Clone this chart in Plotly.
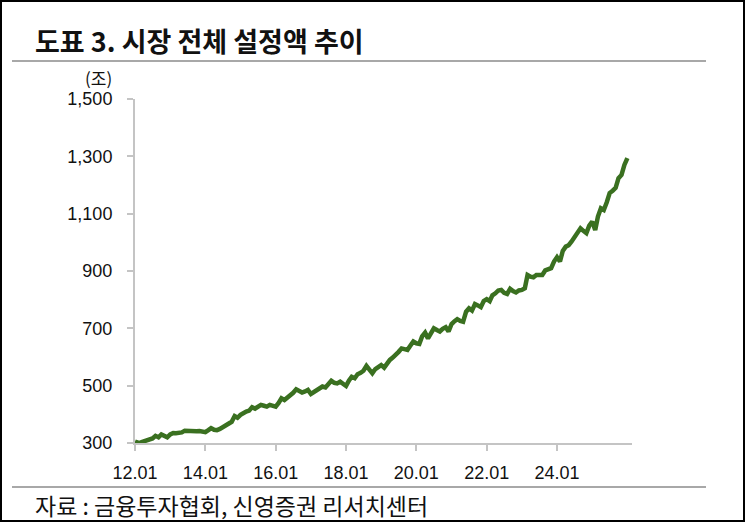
import pandas as pd
import plotly.graph_objects as go

# Monthly total fund assets (조원), 2012.01 - 2026.01
values = [
    305, 301, 302, 305, 308, 312, 316, 325, 320, 330, 326, 320,   # 2012
    330, 335, 334, 336, 337, 343, 342, 341, 340, 341, 342, 341,   # 2013
    338, 345, 352, 346, 345, 349, 355, 364, 368, 374, 394, 388,   # 2014
    398, 407, 410, 413, 425, 420, 426, 433, 430, 427, 433, 432,   # 2015
    427, 440, 456, 450, 458, 463, 475, 487, 479, 476, 480, 485,   # 2016
    471, 478, 487, 492, 497, 494, 505, 517, 510, 508, 514, 508,   # 2017
    499, 518, 531, 526, 540, 545, 552, 569, 555, 543, 558, 566,   # 2018
    572, 563, 578, 590, 598, 607, 618, 630, 627, 625, 640, 654,   # 2019
    648, 646, 672, 685, 665, 682, 700, 694, 689, 698, 704, 689,   # 2020
    715, 725, 732, 726, 723, 758, 770, 762, 785, 780, 774, 795,   # 2021
    802, 795, 815, 822, 832, 834, 824, 820, 838, 830, 825, 832,   # 2022
    834, 840, 886, 880, 878, 886, 887, 886, 902, 906, 910, 933,   # 2023
    948, 933, 970, 985, 990, 1003, 1020, 1035, 1049, 1040, 1032, 1058,  # 2024
    1072, 1043, 1090, 1119, 1113, 1140, 1172, 1180, 1190, 1224, 1235, 1270,  # 2025
    1294,  # 2026.01
]
dates = pd.date_range("2012-01-01", periods=len(values), freq="MS")

x_tick_vals = ["2012-01-01", "2014-01-01", "2016-01-01", "2018-01-01",
               "2020-01-01", "2022-01-01", "2024-01-01"]
x_tick_text = ["12.01", "14.01", "16.01", "18.01", "20.01", "22.01", "24.01"]
y_tick_vals = [300, 500, 700, 900, 1100, 1300, 1500]
y_tick_text = ["300", "500", "700", "900", "1,100", "1,300", "1,500"]

title_text = "도표 3. 시장 전체 설정액 추이"
unit_text = "(조)"
source_text = "자료 : 금융투자협회, 신영증권 리서치센터"

W, H = 745, 522
L, R, T, B = 135, 113, 99, 79
PW, PH = W - L - R, H - T - B

def px(xp):
    return (xp - L) / PW

def py(yp):
    return (H - B - yp) / PH

num_font = "Liberation Sans, Arial, sans-serif"
kr_font = "Noto Sans CJK KR, sans-serif"

fig = go.Figure()
fig.add_trace(go.Scatter(
    x=dates, y=values, mode="lines",
    line=dict(color="#3a7020", width=4.5),
    hoverinfo="skip", showlegend=False,
))

fig.update_layout(
    width=W, height=H,
    margin=dict(l=L, r=R, t=T, b=B),
    paper_bgcolor="white", plot_bgcolor="white",
    showlegend=False,
    xaxis=dict(
        type="date",
        range=["2012-01-01", "2026-02-18"],
        tickvals=x_tick_vals, ticktext=x_tick_text,
        showgrid=False, zeroline=False,
        showline=True, linecolor="#c4c4c4", linewidth=2,
        ticks="outside", ticklen=6, tickwidth=2, tickcolor="#c4c4c4",
        tickfont=dict(family=num_font, size=18, color="#111"),
        ticklabelstandoff=6,
    ),
    yaxis=dict(
        range=[300, 1500],
        tickvals=y_tick_vals, ticktext=y_tick_text,
        showgrid=False, zeroline=False,
        showline=True, linecolor="#c4c4c4", linewidth=2,
        ticks="outside", ticklen=6, tickwidth=2, tickcolor="#c4c4c4",
        tickfont=dict(family=num_font, size=18, color="#111"),
        ticklabelstandoff=11,
    ),
    annotations=[
        dict(text=title_text, xref="paper", yref="paper",
             x=px(33), y=py(41), xanchor="left", yanchor="middle",
             showarrow=False,
             font=dict(family=kr_font, size=27, color="#111", weight="bold")),
        dict(text=unit_text, xref="paper", yref="paper",
             x=px(98), y=py(78), xanchor="center", yanchor="middle",
             showarrow=False,
             font=dict(family=kr_font, size=17, color="#111")),
        dict(text=source_text, xref="paper", yref="paper",
             x=px(33), y=py(505), xanchor="left", yanchor="middle",
             showarrow=False,
             font=dict(family=kr_font, size=23, color="#111")),
    ],
    shapes=[
        dict(type="line", xref="paper", yref="paper",
             x0=px(12), x1=px(706), y0=py(61), y1=py(61),
             line=dict(color="#a8a8a8", width=2)),
        dict(type="line", xref="paper", yref="paper",
             x0=px(12), x1=px(706), y0=py(487), y1=py(487),
             line=dict(color="#a8a8a8", width=2)),
        dict(type="rect", xref="paper", yref="paper",
             x0=px(1), x1=px(744), y0=py(1), y1=py(521),
             line=dict(color="#000", width=2)),
    ],
)

fig.write_html("out.html",
               config={"displayModeBar": False},
               post_script="document.body.style.margin='0';document.body.style.overflow='hidden';")
